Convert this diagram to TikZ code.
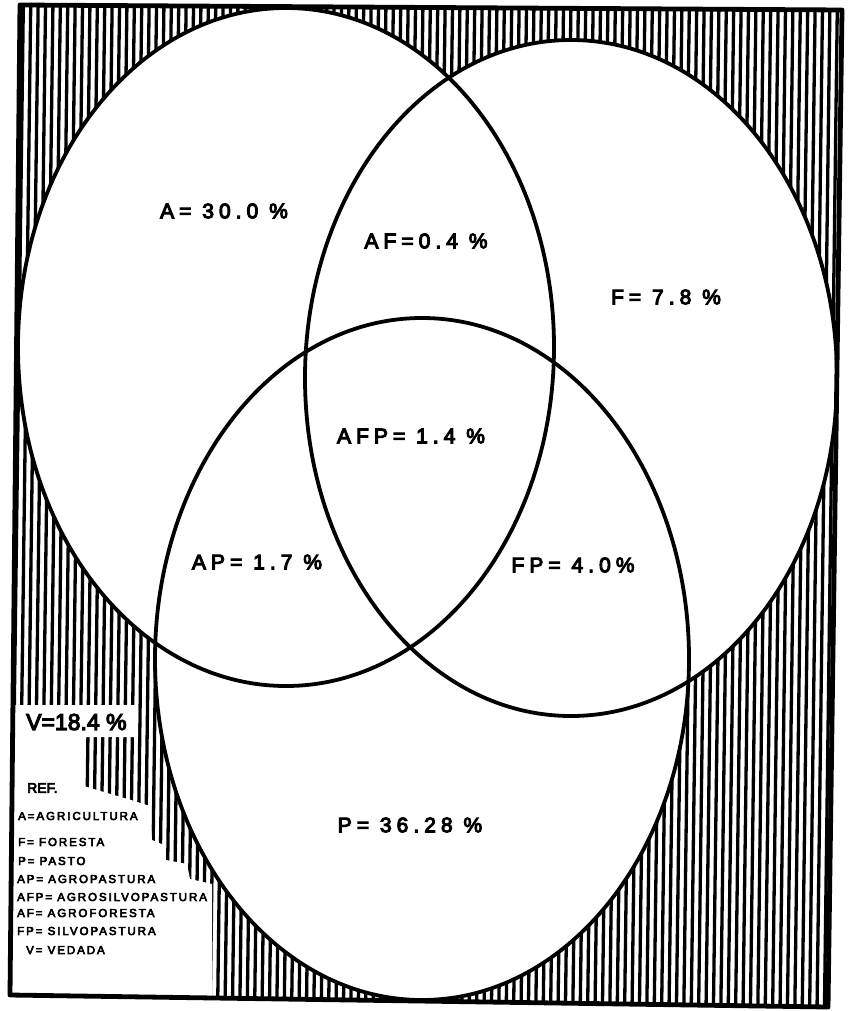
\documentclass[tikz,border=0pt]{standalone}
\usepackage{fontspec}
\setmainfont{Liberation Sans}
\newfontfamily\lblfont{Liberation Sans}[LetterSpace=24, FakeBold=5]
\newfontfamily\legfont{Liberation Sans}[LetterSpace=17, FakeBold=5]
\newfontfamily\vfont{Liberation Sans}[FakeBold=5]
\tikzset{
  hatch/.style={line width=3.3pt},
  outline/.style={line width=3.8pt},
  framebox/.style={line width=4.8pt, line join=round},
  region/.style={font=\lblfont\fontsize{21}{24}\selectfont, inner sep=0pt},
  legitem/.style={font=\legfont\fontsize{11.5}{13}\selectfont, inner sep=0pt, anchor=west},
}
\begin{document}
\begin{tikzpicture}[x=1pt,y=-1pt]
\fill[white] (0,0) rectangle (850,1011);
\useasboundingbox (0,0) rectangle (850,1011);
\coordinate (TL) at (20,5);
\coordinate (TR) at (842,10);
\coordinate (BR) at (828,1007);
\coordinate (BL) at (10,995);
\coordinate (cA) at (286,347);
\coordinate (cF) at (571,378);
\coordinate (cP) at (422,659);
\begin{scope}
  \clip (TL) -- (TR) -- (BR) -- (BL) -- cycle;
  \foreach \i in {0,...,116} {
    \pgfmathsetmacro\xx{16+7.4*\i}
    \draw[hatch] (\xx,0) -- (\xx-13,1011);
  }
  \fill[white] (cA) ellipse [x radius=268, y radius=339];
  \fill[white] (cF) ellipse [x radius=266, y radius=338];
  \fill[white] (cP) ellipse [x radius=267, y radius=341];
  \fill[white] (0,705) -- (138,705) -- (138,737) -- (84,737) -- (84,786)
     -- (97,790) -- (131,800) -- (150,806) -- (152,840) -- (164,845)
     -- (166,860) -- (187,864) -- (190,879) -- (212,884) -- (212,1011)
     -- (0,1011) -- cycle;
\end{scope}
\draw[outline] (cA) ellipse [x radius=268, y radius=339];
\draw[outline] (cF) ellipse [x radius=266, y radius=338];
\draw[outline] (cP) ellipse [x radius=267, y radius=341];
\draw[framebox] (TL) -- (TR) -- (BR) -- (BL) -- cycle;

\node[region] (lA) at (224,211) {A= 30.0 \%};
\node[region] (lAF) at (426,241) {AF=0.4 \%};
\node[region] (lF) at (666,297) {F= 7.8 \%};
\node[region] (lAFP) at (411,436) {AFP= 1.4 \%};
\node[region] (lAP) at (257,562) {AP= 1.7 \%};
\node[region] (lFP) at (573,565) {FP= 4.0\%};
\node[region] (lP) at (410,825) {P= 36.28 \%};
\node[inner sep=0pt, anchor=west, font=\vfont\fontsize{23}{26}\selectfont] (lV) at (26,722) {V=18.4 \%};
\node[inner sep=0pt, anchor=west, font=\vfont\fontsize{14}{16}\selectfont] (ref) at (27,788) {REF.};
\node[legitem] (g1) at (18,816) {A=AGRICULTURA};
\node[legitem] (g2) at (18,842) {F= FORESTA};
\node[legitem] (g3) at (18,861) {P= PASTO};
\node[legitem] (g4) at (17,879) {AP= AGROPASTURA};
\node[legitem] (g5) at (17,897) {AFP= AGROSILVOPASTURA};
\node[legitem] (g6) at (17,913) {AF=  AGROFORESTA};
\node[legitem] (g7) at (17,931) {FP= SILVOPASTURA};
\node[legitem] (g8) at (26,950) {V=  VEDADA};
\end{tikzpicture}
\end{document}
